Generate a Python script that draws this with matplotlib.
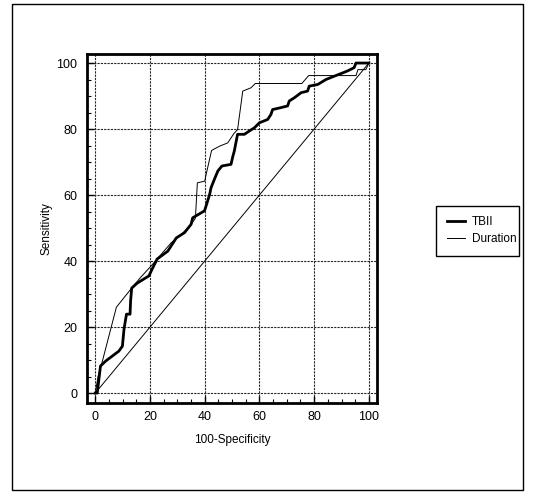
import matplotlib
matplotlib.use('Agg')
import matplotlib.pyplot as plt
from matplotlib.patches import Rectangle
from matplotlib.ticker import MultipleLocator

plt.rcParams['font.family'] = ['Liberation Sans Narrow', 'Liberation Sans', 'DejaVu Sans']

# ROC curves (x = 100-Specificity, y = Sensitivity)
tbii_x = [0, 0.7, 1.9, 3.8, 8.6, 9.9, 10.5, 11.4, 12.7, 12.9, 13.3, 15.3, 19.6, 20.8, 22.6,
          26.5, 29.6, 32.6, 35.0, 35.6, 39.9, 40.5, 41.8, 42.3, 43.5, 44.8, 46.3, 49.6, 50.3,
          50.8, 52.0, 54.5, 56.3, 58.2, 60.0, 63.0, 64.2, 64.8, 67.9, 70.3, 70.9, 72.8, 75.2,
          77.6, 78.2, 81.3, 84.3, 87.3, 90.4, 92.2, 94.6, 95.3, 100]
tbii_y = [0, 0, 8.2, 9.7, 12.7, 14.2, 19.4, 23.9, 23.9, 27.9, 31.8, 33.3, 35.5, 37.6, 40.6,
          43.0, 47.0, 48.6, 51.1, 53.1, 55.2, 56.7, 60.2, 62.2, 64.7, 67.3, 68.8, 69.3, 71.8,
          73.3, 78.4, 78.4, 79.4, 80.4, 81.9, 82.9, 84.4, 85.9, 86.5, 87.0, 88.5, 89.5, 91.0,
          91.5, 93.0, 93.5, 95.0, 96.0, 97.0, 97.6, 98.6, 100, 100]

dur_x = [0, 1.0, 2.6, 7.7, 12.9, 16.5, 20.4, 23.0, 27.7, 32.0, 35.0, 36.6, 37.3, 40.0, 40.5,
         42.5, 45.4, 48.4, 50.8, 52.0, 53.9, 56.9, 58.5, 75.5, 78.0, 95.3, 96.0, 98.9, 100]
dur_y = [0, 5.0, 9.7, 26.0, 31.4, 35.0, 38.5, 41.0, 45.5, 48.5, 51.0, 53.0, 63.7, 64.2, 66.2,
         73.5, 74.8, 75.8, 78.8, 79.8, 91.5, 92.5, 93.8, 93.8, 96.2, 96.2, 98.0, 98.0, 100]

ticks = [0, 20, 40, 60, 80, 100]

fig = plt.figure(figsize=(5.41, 4.92), dpi=100)
ax = fig.add_axes([0.161, 0.181, 0.536, 0.709])

ax.plot(tbii_x, tbii_y, color='black', lw=2.0, label='TBII', zorder=4)
ax.plot(dur_x, dur_y, color='black', lw=0.7, label='Duration', zorder=3)
ax.plot([0, 100], [0, 100], color='black', lw=0.7, zorder=2)

ax.set_xlim(-3, 103)
ax.set_ylim(-3, 102.7)
ax.set_xticks(ticks)
ax.set_yticks(ticks)
ax.xaxis.set_minor_locator(MultipleLocator(5))
ax.yaxis.set_minor_locator(MultipleLocator(5))
ax.tick_params(which='major', direction='in', length=5, width=1, labelsize=9, pad=7)
ax.tick_params(which='minor', direction='in', length=3, width=0.8)
ax.tick_params(axis='x', pad=6)
ax.grid(True, which='major', color='0.15', lw=0.8, linestyle=(0, (2, 1)))
for s in ax.spines.values():
    s.set_linewidth(2)

ax.set_xlabel('100-Specificity', fontsize=8.5, labelpad=8)
ax.set_ylabel('Sensitivity', fontsize=8.5, labelpad=3)

# legend entries, with a plain square box drawn around them
leg = fig.legend(loc='center left', bbox_to_anchor=(0.815, 0.531), fontsize=8.5,
                 frameon=False, handlelength=1.5, borderpad=0,
                 labelspacing=0.45, handletextpad=0.6)
fig.patches.append(Rectangle((436 / 541, 1 - 256 / 492), 83 / 541, 50 / 492,
                             transform=fig.transFigure, fill=False,
                             edgecolor='black', lw=1.0))

# outer frame around the whole figure
fig.patches.append(Rectangle((12 / 541, 2 / 492), 511 / 541, 486 / 492,
                             transform=fig.transFigure, fill=False,
                             edgecolor='black', lw=1.0))

fig.savefig('out.png', dpi=100)
